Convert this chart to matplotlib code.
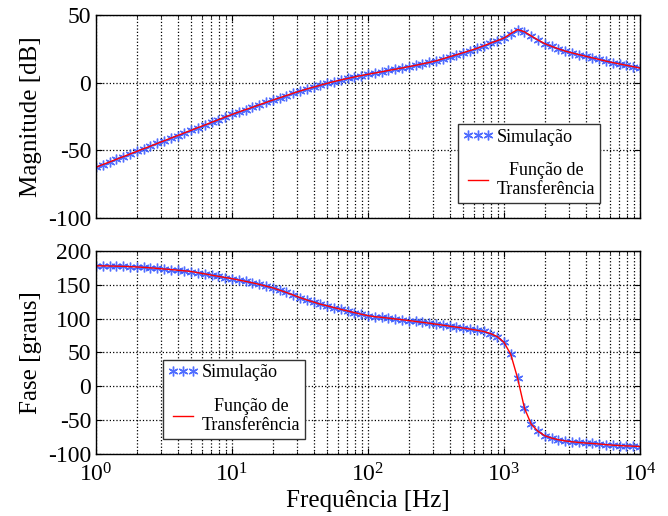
import numpy as np
import matplotlib
matplotlib.use('Agg')
import matplotlib.pyplot as plt

plt.rcParams['font.family'] = ['Liberation Serif', 'DejaVu Serif']
plt.rcParams['mathtext.fontset'] = 'custom'
plt.rcParams['mathtext.rm'] = 'Liberation Serif'
plt.rcParams['mathtext.it'] = 'Liberation Serif'
plt.rcParams['axes.unicode_minus'] = False

# frequency sweep, 20 points per decade from 1 Hz to 10 kHz
freq = np.logspace(0, 4, 81)

magnitude_db = [
    -62.5, -60.5, -58.6, -56.6, -54.7, -52.7, -50.8, -48.8, -46.9, -44.9,
    -43.0, -41.0, -39.1, -37.1, -35.2, -33.2, -31.3, -29.3, -27.4, -25.4,
    -23.5, -21.7, -19.9, -18.2, -16.4, -14.6, -12.9, -11.2, -9.5, -7.8,
    -6.2, -4.7, -3.3, -1.9, -0.5, 0.8, 2.0, 3.1, 4.2, 5.2,
    6.2, 7.1, 8.0, 9.0, 9.9, 10.8, 11.8, 12.8, 13.9, 14.9,
    16.1, 17.6, 19.1, 20.6, 22.1, 23.7, 25.3, 27.2, 29.2, 31.0,
    33.0, 36.3, 39.2, 37.6, 34.5, 31.5, 28.8, 26.8, 25.0, 23.3,
    22.0, 20.7, 19.5, 18.3, 17.1, 15.9, 14.8, 13.8, 12.8, 11.8,
    10.8,
]

phase_deg = [
    178.0, 177.9, 177.7, 177.5, 177.2, 176.8, 176.3, 175.7, 175.0, 174.2,
    173.3, 172.5, 171.5, 170.6, 169.6, 167.8, 166.1, 164.2, 162.4, 160.7,
    159.0, 157.0, 155.0, 152.9, 150.6, 148.0, 145.4, 142.0, 138.6, 134.9,
    131.0, 127.6, 124.4, 121.3, 118.8, 116.3, 113.7, 111.3, 108.8, 106.5,
    104.3, 102.8, 101.8, 100.7, 99.5, 98.3, 97.1, 95.8, 94.5, 93.2,
    91.8, 90.3, 88.8, 87.4, 86.0, 84.5, 82.8, 81.0, 78.0, 73.5,
    65.0, 47.0, 12.0, -32.0, -56.0, -66.5, -73.0, -76.5, -79.0, -80.7,
    -82.0, -83.0, -83.8, -84.5, -85.3, -86.2, -87.0, -87.6, -88.1, -88.5,
    -89.0,
]

sim_label = 'Simulação'
tf_label = 'Função de\nTransferência'

fig = plt.figure(figsize=(6.68, 5.16), dpi=100)
ax1 = fig.add_axes([0.1437, 0.5775, 0.8144, 0.3935])
ax2 = fig.add_axes([0.1437, 0.1202, 0.8144, 0.3935])

star = (6, 2, 0)

for ax, data in [(ax1, magnitude_db), (ax2, phase_deg)]:
    ax.plot(freq, data, linestyle='none', marker=star, markersize=7,
            markeredgewidth=1.0, color='#3355ff', alpha=0.85, label=sim_label)
    ax.plot(freq, data, color='#ff0000', linewidth=1.0, label=tf_label)
    ax.set_xscale('log')
    ax.set_xlim(1, 1e4)
    ax.grid(True, which='major', linestyle=':', color='black', linewidth=0.9)
    ax.grid(True, which='minor', axis='x', linestyle=':', color='black', linewidth=0.9)
    ax.tick_params(which='both', direction='in', top=True, right=True, labelsize=17)
    ax.tick_params(which='major', length=4)
    ax.tick_params(which='minor', length=2)
    for s in ax.spines.values():
        s.set_linewidth(1.0)

ax1.set_ylim(-100, 50)
ax1.set_yticks([-100, -50, 0, 50])
ax1.tick_params(labelbottom=False)
ax1.set_ylabel('Magnitude [dB]', fontsize=18)

ax2.set_ylim(-100, 200)
ax2.set_yticks([-100, -50, 0, 50, 100, 150, 200])
ax2.set_xticks([1, 10, 100, 1000, 10000])
ax2.set_xticklabels(['$10^{0}$', '$10^{1}$', '$10^{2}$', '$10^{3}$', '$10^{4}$'])
ax2.tick_params(axis='x', pad=7)
ax2.set_ylabel('Fase [graus]', fontsize=18)
ax2.set_xlabel('Frequência [Hz]', fontsize=18, labelpad=2)

for ax, anchor in [(ax1, (0.665, 0.463)), (ax2, (0.123, 0.463))]:
    leg = ax.legend(loc='upper left', bbox_to_anchor=anchor, borderaxespad=0,
                    fontsize=13, numpoints=3, fancybox=False, framealpha=1,
                    edgecolor='#333333', labelspacing=0.9, handlelength=1.7,
                    handletextpad=0.2, borderpad=0.25)
    leg.get_frame().set_linewidth(1.0)
    for t in leg.get_texts():
        t.set_multialignment('center')

fig.savefig('out.png', dpi=100)
